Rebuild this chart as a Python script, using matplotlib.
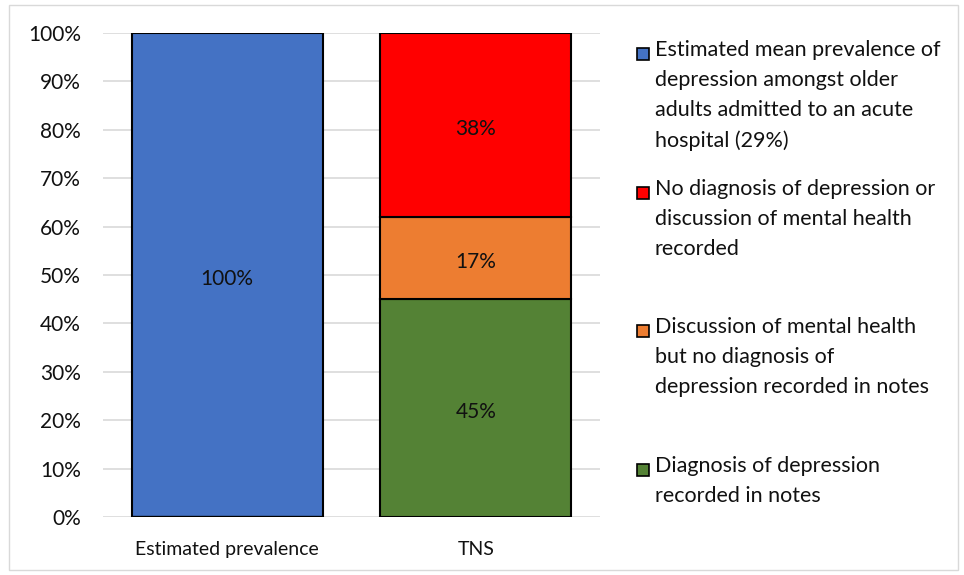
import matplotlib.pyplot as plt
from matplotlib.patches import Rectangle
import numpy as np

plt.rcParams['font.family'] = ['Lato', 'DejaVu Sans']

categories = ['Estimated prevalence', 'TNS']
series_names = ['Estimated mean prevalence of\ndepression amongst older\nadults admitted to an acute\nhospital (29%)',
                'No diagnosis of depression or\ndiscussion of mental health\nrecorded',
                'Discussion of mental health\nbut no diagnosis of\ndepression recorded in notes',
                'Diagnosis of depression\nrecorded in notes']
# stacked from bottom: green, orange, red ; blue only in first bar
blue_vals = [100, 0]
green_vals = [0, 45]
orange_vals = [0, 17]
red_vals = [0, 38]

c_blue = '#4472c4'
c_red = '#ff0000'
c_orange = '#ed7d31'
c_green = '#548235'

W, H = 964, 575
fig = plt.figure(figsize=(W / 100, H / 100), dpi=100)
ax = fig.add_axes([103 / W, 1 - 517 / H, (600 - 103) / W, (517 - 33) / H])

x = np.arange(len(categories))
bw = 0.77
kw = dict(width=bw, edgecolor='black', linewidth=1.5, zorder=3)
ax.bar(x, blue_vals, color=c_blue, **kw)
ax.bar(x, green_vals, color=c_green, **kw)
ax.bar(x, orange_vals, bottom=green_vals, color=c_orange, **kw)
ax.bar(x, red_vals, bottom=np.add(green_vals, orange_vals), color=c_red, **kw)

# data labels (nudged a bit down, like excel does)
def label(xi, bottom, v):
    if v > 0:
        ax.text(xi, bottom + v / 2 - 0.8, f'{v}%', ha='center', va='center', fontsize=15, color='#111111', zorder=4)

for i in range(len(categories)):
    label(x[i], 0, blue_vals[i])
    label(x[i], 0, green_vals[i])
    label(x[i], green_vals[i], orange_vals[i])
    label(x[i], green_vals[i] + orange_vals[i], red_vals[i])

ax.set_xlim(-0.5, 1.5)
ax.set_ylim(0, 100)
ax.set_yticks(np.arange(0, 101, 10))
ax.set_yticklabels([f'{t}%' for t in range(0, 101, 10)])
ax.set_xticks(x)
ax.set_xticklabels(categories)
ax.tick_params(length=0, colors='#111111')
ax.tick_params(axis='y', pad=16, labelsize=15)
ax.tick_params(axis='x', pad=17, labelsize=14)
ax.grid(axis='y', color='#d9d9d9', linewidth=1.2, zorder=0)
for s in ax.spines.values():
    s.set_visible(False)

# legend, placed by hand
colors = [c_blue, c_red, c_orange, c_green]
tops = [40, 179, 317, 456]
for name, col, top in zip(series_names, colors, tops):
    fig.patches.append(Rectangle((637 / W, 1 - (top + 20) / H), 12 / W, 12 / H,
                                 transform=fig.transFigure, facecolor=col,
                                 edgecolor='black', linewidth=1.2))
    fig.text(655 / W, 1 - top / H, name, ha='left', va='top', fontsize=15.5,
             linespacing=1.63, color='#111111')

# outer border
fig.patches.append(Rectangle((9 / W, 5 / H), (958 - 9) / W, (570 - 5) / H, transform=fig.transFigure,
                             fill=False, edgecolor='#d9d9d9', linewidth=1))

fig.savefig('out.png', dpi=100)
